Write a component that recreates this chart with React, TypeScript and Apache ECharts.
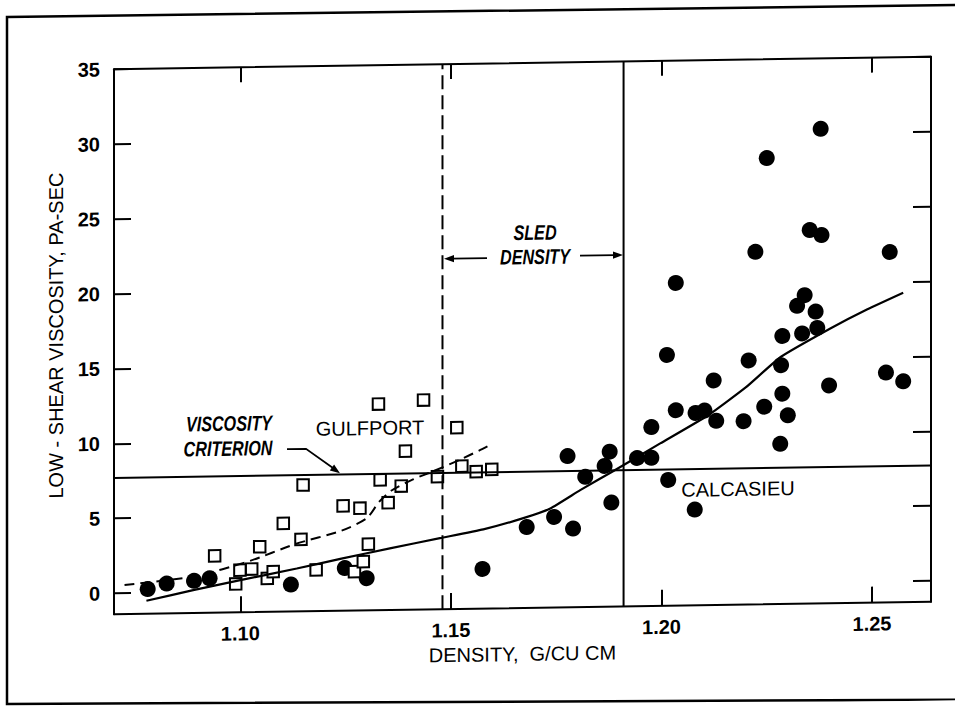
import { useEffect, useRef } from "react";
import * as echarts from "echarts";

// Axis ranges and ticks
const xMin = 1.07;
const xMax = 1.264;
const yMin = -1.4;
const yMax = 35;
const xTicks = [1.1, 1.15, 1.2, 1.25];
const yTicks = [0, 5, 10, 15, 20, 25, 30, 35];

// Calcasieu (filled circles)
const calcasieuX = [
  1.078, 1.0825, 1.089, 1.0927, 1.112, 1.1248, 1.13, 1.1575, 1.168, 1.1745,
  1.179, 1.1777, 1.1819, 1.1865, 1.1877, 1.1881, 1.1942, 1.1976, 1.1976, 1.2013,
  1.2016, 1.2034, 1.2034, 1.2081, 1.2102, 1.213, 1.2124, 1.2195, 1.2207, 1.2223,
  1.2244, 1.225, 1.2282, 1.2287, 1.23, 1.2284, 1.2287, 1.2334, 1.2322, 1.234,
  1.2366, 1.237, 1.2352, 1.238, 1.2378, 1.2398, 1.2542, 1.2533, 1.2574, 1.2079,
];
const calcasieuY = [
  0.25, 0.6, 0.75, 0.9, 0.4, 1.45, 0.75, 1.25, 4.0, 4.65,
  3.85, 8.7, 7.3, 8.0, 8.95, 5.55, 8.5, 8.5, 10.55, 15.35,
  7.0, 20.15, 11.65, 11.45, 11.6, 10.9, 13.6, 10.85, 14.9, 22.15,
  11.8, 28.4, 9.3, 12.65, 11.2, 14.55, 16.5, 16.65, 18.5, 19.2,
  18.1, 17.0, 23.55, 23.2, 30.3, 13.15, 22.0, 13.95, 13.35, 5.0,
];

// Gulfport (open squares)
const gulfportX = [
  1.0939, 1.0989, 1.0999, 1.1027, 1.1046, 1.1064, 1.1078, 1.1102, 1.1144, 1.1149,
  1.118, 1.1244, 1.1271, 1.1284, 1.1292, 1.1304, 1.1328, 1.1332, 1.1351, 1.1382,
  1.1392, 1.1435, 1.1468, 1.1514, 1.1526, 1.156, 1.1597,
];
const gulfportY = [
  2.4, 0.5, 1.42, 1.48, 2.96, 0.84, 1.28, 4.5, 3.41, 7.04,
  1.36, 5.6, 1.2, 5.43, 1.86, 3.02, 12.37, 7.3, 5.77, 6.87,
  9.2, 12.59, 7.46, 10.71, 8.14, 7.76, 7.89,
];

// Fitted curves
const calcasieuFitX = [
  1.0777, 1.0888, 1.1, 1.1134, 1.124, 1.1355, 1.1474, 1.1577, 1.1672, 1.1736,
  1.1807, 1.1886, 1.1997, 1.2112, 1.22, 1.2283, 1.2402, 1.2489, 1.2574,
];
const calcasieuFitY = [
  -0.53, 0.13, 0.75, 1.47, 2.08, 2.72, 3.35, 3.89, 4.6, 5.22,
  6.41, 7.66, 9.45, 11.3, 13.1, 15.1, 16.97, 18.2, 19.27,
];
const gulfportFitX = [
  1.0725, 1.089, 1.102, 1.113, 1.124, 1.13, 1.133, 1.136, 1.141, 1.146, 1.152, 1.157, 1.1597,
];
const gulfportFitY = [
  0.55, 1.05, 2.0, 3.1, 3.95, 4.75, 5.85, 6.6, 7.3, 7.85, 8.55, 9.2, 9.58,
];

// Reference lines
const sledDensityMin = 1.148;
const sledDensityMax = 1.191;
const viscosityCriterion = 7.7;

const FONT = "'Liberation Sans', Arial, Helvetica, sans-serif";

const zip = (xs: number[], ys: number[]) => xs.map((x, i) => [x, ys[i]]);

export default function App() {
  const ref = useRef<HTMLDivElement>(null);

  useEffect(() => {
    if (!ref.current) return;
    const chart = echarts.init(ref.current, null, { renderer: "svg" });

    const axisLine = { show: true, onZero: false, lineStyle: { color: "#000", width: 2 } };

    const arrowHead = (tip: number[], dir: number[], len = 10, half = 3.6) => {
      const n = Math.hypot(dir[0], dir[1]);
      const ux = dir[0] / n;
      const uy = dir[1] / n;
      const bx = tip[0] - ux * len;
      const by = tip[1] - uy * len;
      return {
        type: "polygon",
        shape: {
          points: [
            tip,
            [bx - uy * half, by + ux * half],
            [bx + uy * half, by - ux * half],
          ],
        },
        style: { fill: "#000" },
      };
    };

    const italicText = (text: string, x: number, y: number) => ({
      type: "text",
      x,
      y,
      scaleX: 0.77,
      style: {
        text,
        font: `italic bold 21px ${FONT}`,
        fill: "#000",
        align: "center",
        verticalAlign: "middle",
      },
    });
    const plainText = (text: string, x: number, y: number) => ({
      type: "text",
      x,
      y,
      style: {
        text,
        font: `20px ${FONT}`,
        fill: "#000",
        align: "center",
        verticalAlign: "middle",
      },
    });

    chart.setOption({
      animation: false,
      backgroundColor: "#fff",
      grid: { left: 114, right: 24, top: 63, bottom: 99 },
      xAxis: [
        {
          type: "value",
          min: xMin,
          max: xMax,
          position: "bottom",
          axisLine,
          axisTick: {
            show: true,
            inside: true,
            length: 16,
            customValues: xTicks,
            lineStyle: { color: "#000", width: 2 },
          },
          axisLabel: {
            customValues: xTicks,
            formatter: (v: number) => v.toFixed(2),
            fontFamily: FONT,
            fontSize: 20,
            fontWeight: "bold",
            color: "#000",
            margin: 11,
          },
          splitLine: { show: false },
          name: "DENSITY,  G/CU CM",
          nameLocation: "middle",
          nameGap: 31,
          nameTextStyle: { fontFamily: FONT, fontSize: 20, color: "#000" },
        },
        {
          type: "value",
          min: xMin,
          max: xMax,
          position: "top",
          axisLine,
          axisTick: {
            show: true,
            inside: true,
            length: 15,
            customValues: xTicks,
            lineStyle: { color: "#000", width: 2 },
          },
          axisLabel: { show: false },
          splitLine: { show: false },
        },
      ],
      yAxis: [
        {
          type: "value",
          min: yMin,
          max: yMax,
          position: "left",
          axisLine,
          axisTick: {
            show: true,
            inside: true,
            length: 17,
            customValues: yTicks,
            lineStyle: { color: "#000", width: 2 },
          },
          axisLabel: {
            customValues: yTicks,
            fontFamily: FONT,
            fontSize: 20,
            fontWeight: "bold",
            color: "#000",
            margin: 14,
          },
          splitLine: { show: false },
          name: "LOW - SHEAR VISCOSITY, PA-SEC",
          nameLocation: "middle",
          nameGap: 48,
          nameRotate: 90,
          nameTextStyle: { fontFamily: FONT, fontSize: 20, color: "#000", padding: [0, 0, 0, 14] },
        },
        {
          type: "value",
          min: yMin,
          max: yMax,
          position: "right",
          axisLine,
          axisTick: {
            show: true,
            inside: true,
            length: 18,
            customValues: yTicks,
            lineStyle: { color: "#000", width: 2 },
          },
          axisLabel: { show: false },
          splitLine: { show: false },
        },
      ],
      series: [
        {
          name: "Viscosity criterion",
          type: "line",
          data: [
            [xMin, viscosityCriterion],
            [xMax, viscosityCriterion],
          ],
          showSymbol: false,
          lineStyle: { color: "#000", width: 2 },
          silent: true,
        },
        {
          name: "Sled density min",
          type: "line",
          data: [
            [sledDensityMin, yMin],
            [sledDensityMin, yMax],
          ],
          showSymbol: false,
          lineStyle: { color: "#000", width: 2, type: [14, 6] },
          silent: true,
        },
        {
          name: "Sled density max",
          type: "line",
          data: [
            [sledDensityMax, yMin],
            [sledDensityMax, yMax],
          ],
          showSymbol: false,
          lineStyle: { color: "#000", width: 2 },
          silent: true,
        },
        {
          name: "Calcasieu fit",
          type: "line",
          data: zip(calcasieuFitX, calcasieuFitY),
          smooth: 0.15,
          showSymbol: false,
          lineStyle: { color: "#000", width: 2.2 },
        },
        {
          name: "Gulfport fit",
          type: "line",
          data: zip(gulfportFitX, gulfportFitY),
          smooth: 0.25,
          showSymbol: false,
          lineStyle: { color: "#000", width: 2, type: [10, 6] },
        },
        {
          name: "Calcasieu",
          type: "scatter",
          data: zip(calcasieuX, calcasieuY),
          symbol: "circle",
          symbolSize: 16,
          itemStyle: { color: "#000", opacity: 1 },
        },
        {
          name: "Gulfport",
          type: "scatter",
          data: zip(gulfportX, gulfportY),
          symbol: "rect",
          symbolSize: 11.5,
          itemStyle: { color: "#fff", borderColor: "#000", borderWidth: 2, opacity: 1 },
        },
      ],
      graphic: [
        {
          type: "polygon",
          shape: { points: [[7, 9], [965, 11.7], [965, 706.5], [7, 696]] },
          style: { fill: "none", stroke: "#000", lineWidth: 2.5 },
          silent: true,
        },
        italicText("SLED", 535, 232.7),
        italicText("DENSITY", 535, 257),
        { type: "line", shape: { x1: 487, y1: 257.5, x2: 452, y2: 257.5 }, style: { stroke: "#000", lineWidth: 1.8 } },
        arrowHead([444, 257.5], [-1, 0]),
        { type: "line", shape: { x1: 580, y1: 256.5, x2: 615, y2: 256.5 }, style: { stroke: "#000", lineWidth: 1.8 } },
        arrowHead([623, 256.5], [1, 0]),
        italicText("VISCOSITY", 229, 419),
        italicText("CRITERION", 228, 444),
        {
          type: "polyline",
          shape: { points: [[287, 445.5], [306, 445.5], [333, 465]] },
          style: { stroke: "#000", lineWidth: 1.8, fill: "none" },
        },
        arrowHead([340, 470.5], [34, 25]),
        plainText("GULFPORT", 370, 425.7),
        plainText("CALCASIEU", 738, 492.3),
      ],
    });

    return () => chart.dispose();
  }, []);

  return (
    <div
      ref={ref}
      style={{
        position: "absolute",
        left: 0,
        top: 0,
        width: 955,
        height: 707,
        background: "#fff",
        transform: "skewY(-0.88deg)",
        transformOrigin: "522px 353px",
      }}
    />
  );
}
